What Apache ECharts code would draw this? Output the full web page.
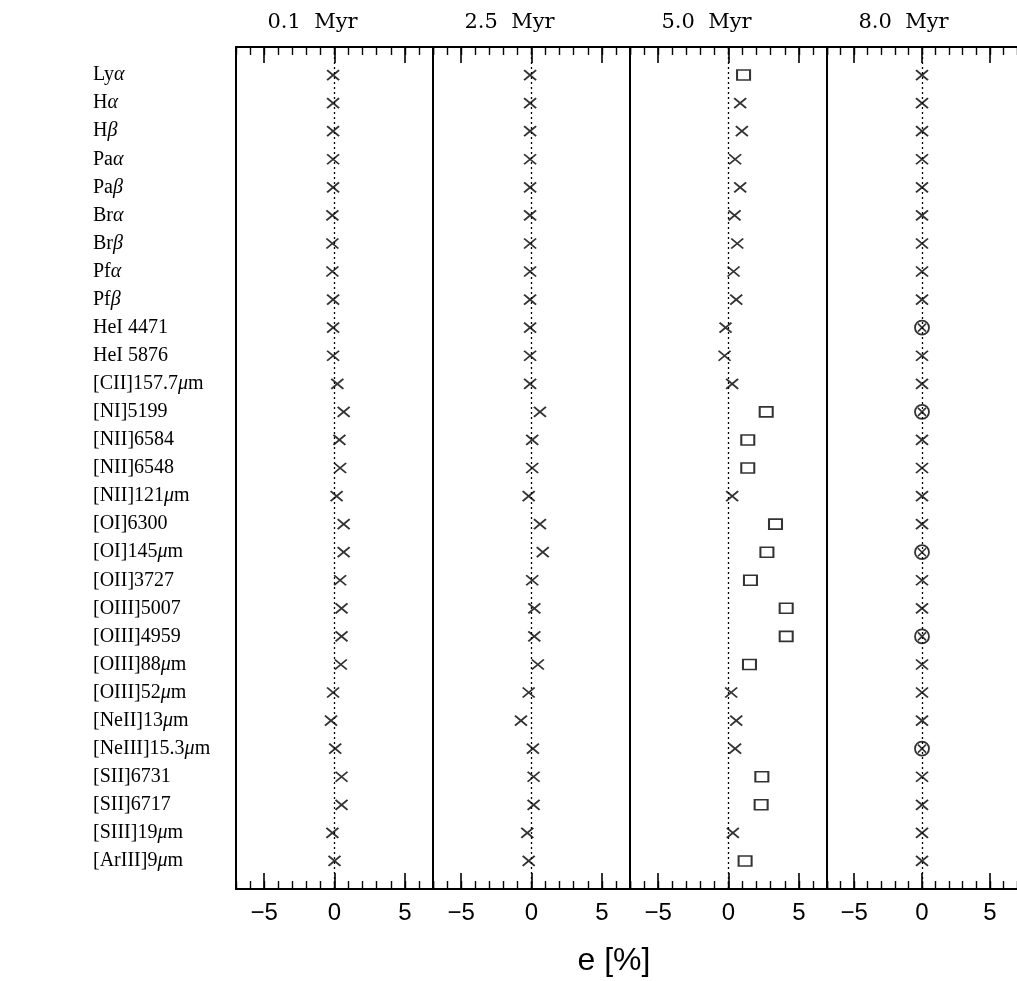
<!DOCTYPE html>
<html><head><meta charset="utf-8">
<script src="https://cdn.jsdelivr.net/npm/echarts@6/dist/echarts.min.js"></script>
<style>html,body{margin:0;padding:0;background:#fff}#c{width:1017px;height:981px}</style>
</head><body><div id="c"></div><script>
// ---------------- data ----------------
const lineNames = ['Lyα','Hα','Hβ','Paα','Paβ','Brα','Brβ','Pfα','Pfβ','HeI 4471','HeI 5876',
  '[CII]157.7μm','[NI]5199','[NII]6584','[NII]6548','[NII]121μm','[OI]6300','[OI]145μm','[OII]3727',
  '[OIII]5007','[OIII]4959','[OIII]88μm','[OIII]52μm','[NeII]13μm','[NeIII]15.3μm','[SII]6731',
  '[SII]6717','[SIII]19μm','[ArIII]9μm'];
const ageLabels = ['0.1  Myr','2.5  Myr','5.0  Myr','8.0  Myr'];
const err01 = [-0.1,-0.1,-0.1,-0.1,-0.1,-0.15,-0.15,-0.15,-0.1,-0.1,-0.1,0.2,0.65,0.35,0.4,0.15,0.65,0.65,0.4,0.5,0.5,0.45,-0.1,-0.25,0.05,0.5,0.5,-0.15,0.0];
const err25 = [-0.1,-0.1,-0.1,-0.1,-0.1,-0.1,-0.1,-0.1,-0.1,-0.1,-0.1,-0.1,0.6,0.05,0.05,-0.2,0.6,0.8,0.05,0.2,0.2,0.45,-0.2,-0.75,0.1,0.15,0.15,-0.3,-0.2];
const err50 = [1.07,0.83,0.95,0.47,0.83,0.43,0.62,0.36,0.55,-0.21,-0.28,0.26,2.68,1.37,1.37,0.26,3.34,2.73,1.56,4.1,4.1,1.49,0.19,0.55,0.47,2.37,2.32,0.31,1.18];
const err80 = [0,0,0,0,0,0,0,0,0,0,0,0,0,0,0,0,0,0,0,0,0,0,0,0,0,0,0,0,0];
const marks01 = ['x','x','x','x','x','x','x','x','x','x','x','x','x','x','x','x','x','x','x','x','x','x','x','x','x','x','x','x','x'];
const marks25 = ['x','x','x','x','x','x','x','x','x','x','x','x','x','x','x','x','x','x','x','x','x','x','x','x','x','x','x','x','x'];
const marks50 = ['s','x','x','x','x','x','x','x','x','x','x','x','s','s','s','x','s','s','s','s','s','s','x','x','x','s','s','x','s'];
const marks80 = ['x','x','x','x','x','x','x','x','x','o','x','x','o','x','x','x','x','o','x','x','o','x','x','x','o','x','x','x','x'];
const xMajorTicks = [-5, 0, 5];
const xTitle = 'e [%]';

// ---------------- layout ----------------
const L0 = 236, PW = 197, TOP = 47, PH = 842;
const X_MIN = -7, X_MAX = 7;
const panels = [
  {err: err01, marks: marks01}, {err: err25, marks: marks25},
  {err: err50, marks: marks50}, {err: err80, marks: marks80}
];
const CROSS = 'path://M0,0L10,10M10,0L0,10';
const black = '#000';

const grid = [], xAxis = [], yAxis = [], series = [], graphic = [];
panels.forEach((p, i) => {
  grid.push({left: L0 + i * PW, top: TOP, width: PW, height: PH, containLabel: false});
  const base = {type: 'value', gridIndex: i, min: X_MIN, max: X_MAX, splitLine: {show: false}};
  xAxis.push(Object.assign({}, base, {
    position: 'bottom',
    axisLine: {show: true, onZero: false, lineStyle: {color: black, width: 2}},
    axisTick: {show: true, inside: true, length: 16, customValues: xMajorTicks, lineStyle: {color: black, width: 1.6}},
    axisLabel: {show: true, customValues: xMajorTicks, formatter: v => String(v).replace('-', '\u2212'),
      fontFamily: 'Liberation Sans', fontSize: 24, color: black, margin: 12}
  }));
  xAxis.push(Object.assign({}, base, {
    position: 'bottom', interval: 1,
    axisLine: {show: false, onZero: false},
    axisTick: {show: true, inside: true, length: 8, lineStyle: {color: black, width: 1.4}},
    axisLabel: {show: false}
  }));
  xAxis.push(Object.assign({}, base, {
    position: 'top',
    axisLine: {show: true, onZero: false, lineStyle: {color: black, width: 2}},
    axisTick: {show: true, inside: true, length: 16, customValues: xMajorTicks, lineStyle: {color: black, width: 1.6}},
    axisLabel: {show: false}
  }));
  xAxis.push(Object.assign({}, base, {
    position: 'top', interval: 1,
    axisLine: {show: false, onZero: false},
    axisTick: {show: true, inside: true, length: 8, lineStyle: {color: black, width: 1.4}},
    axisLabel: {show: false}
  }));
  yAxis.push({
    type: 'value', gridIndex: i, min: 0, max: lineNames.length + 1, interval: 1, inverse: true,
    axisLine: {show: true, onZero: false, lineStyle: {color: black, width: 2}},
    axisTick: {show: false}, splitLine: {show: false},
    axisLabel: i === 0 ? {
      show: true, align: 'left', margin: 143, color: black,
      fontFamily: 'Liberation Serif', fontSize: 20,
      formatter: v => (v >= 1 && v <= lineNames.length) ? lineNames[v - 1].replace(/([αβμ])/g, '{g|$1}') : '',
      rich: {g: {fontStyle: 'italic', fontFamily: 'Liberation Serif', fontSize: 20, color: black}}
    } : {show: false}
  });

  const groups = {x: [], s: [], o: []};
  p.err.forEach((v, k) => groups[p.marks[k]].push([v, k + 1]));
  const common = {type: 'scatter', xAxisIndex: i * 4, yAxisIndex: i, silent: true, z: 5};
  series.push(Object.assign({}, common, {
    name: 'x' + i, data: groups.x, symbol: CROSS, symbolSize: [12, 10],
    itemStyle: {color: 'transparent', borderColor: black, borderWidth: 1.8},
    markLine: {silent: true, symbol: ['none', 'none'], label: {show: false},
      lineStyle: {type: [2, 3], color: black, width: 1.3}, data: [{xAxis: 0}], z: 1}
  }));
  if (groups.s.length) series.push(Object.assign({}, common, {
    name: 's' + i, data: groups.s, symbol: 'rect', symbolSize: [13, 10],
    itemStyle: {color: 'transparent', borderColor: black, borderWidth: 1.8}
  }));
  if (groups.o.length) {
    series.push(Object.assign({}, common, {
      name: 'oc' + i, data: groups.o, symbol: 'circle', symbolSize: 14,
      itemStyle: {color: 'transparent', borderColor: black, borderWidth: 1.8}
    }));
    series.push(Object.assign({}, common, {
      name: 'ox' + i, data: groups.o, symbol: CROSS, symbolSize: [8, 8],
      itemStyle: {color: 'transparent', borderColor: black, borderWidth: 1.6}
    }));
  }
  const zeroX = L0 + i * PW + PW * (0 - X_MIN) / (X_MAX - X_MIN);
  graphic.push({type: 'text', x: zeroX - 22, y: 23, silent: true,
    style: {text: ageLabels[i], fill: black, font: '21px "DejaVu Serif"', align: 'center', verticalAlign: 'middle'}});
});
graphic.push({type: 'text', x: 614, y: 961, silent: true,
  style: {text: xTitle, fill: black, font: '32px "Liberation Sans"', align: 'center', verticalAlign: 'middle'}});

const chart = echarts.init(document.getElementById('c'), null, {renderer: 'canvas'});
chart.setOption({animation: false, backgroundColor: '#fff', grid, xAxis, yAxis, series, graphic});
</script></body></html>
